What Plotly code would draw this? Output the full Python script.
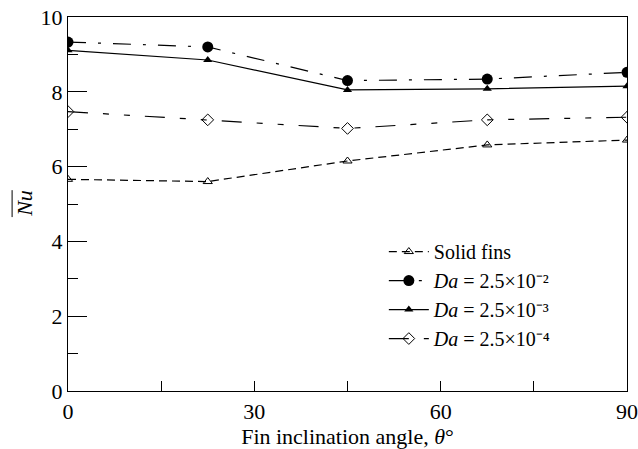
import plotly.graph_objects as go

angles = [0, 22.5, 45, 67.5, 90]
solid_fins = [5.66, 5.60, 6.15, 6.58, 6.71]
da_2 = [9.33, 9.20, 8.30, 8.34, 8.52]
da_3 = [9.11, 8.85, 8.05, 8.08, 8.15]
da_4 = [7.47, 7.25, 7.02, 7.25, 7.32]

names = ["Solid fins",
         "<i>Da</i> = 2.5×10⁻²",
         "<i>Da</i> = 2.5×10⁻³",
         "<i>Da</i> = 2.5×10⁻⁴"]

x_ticks = [0, 30, 60, 90]
y_ticks = [0, 2, 4, 6, 8, 10]

FONT = "Liberation Serif, Times New Roman, serif"

fig = go.Figure()
fig.add_trace(go.Scatter(x=angles, y=solid_fins, name=names[0], mode="lines+markers",
                         line=dict(color="black", width=1.2, dash="8px,5px"),
                         marker=dict(symbol="triangle-up-open", size=8, color="black",
                                     line=dict(width=1))))
fig.add_trace(go.Scatter(x=angles, y=da_2, name=names[1], mode="lines+markers",
                         line=dict(color="black", width=1.2, dash="18px,12px,3px,12px"),
                         marker=dict(symbol="circle", size=11, color="black")))
fig.add_trace(go.Scatter(x=angles, y=da_3, name=names[2], mode="lines+markers",
                         line=dict(color="black", width=1.2),
                         marker=dict(symbol="triangle-up", size=8, color="black")))
fig.add_trace(go.Scatter(x=angles, y=da_4, name=names[3], mode="lines+markers",
                         line=dict(color="black", width=1.2, dash="20px,15px,6px,15px,6px,15px"),
                         marker=dict(symbol="diamond-open", size=9, color="black",
                                     line=dict(width=1))))

fig.update_layout(
    width=638, height=449,
    margin=dict(l=68, r=11, t=17, b=58),
    paper_bgcolor="white", plot_bgcolor="white",
    font=dict(family=FONT, size=21, color="black"),
    legend=dict(x=0.565, y=0.425, xanchor="left", yanchor="top",
                bgcolor="rgba(0,0,0,0)", font=dict(size=20, family=FONT),
                tracegroupgap=0, itemwidth=40),
    annotations=[dict(text="<i>Nu</i>", xref="paper", yref="paper",
                      x=-0.077, y=0.503, xanchor="center", yanchor="middle",
                      textangle=-90, showarrow=False, font=dict(size=22, family=FONT))],
    shapes=[dict(type="line", xref="paper", yref="paper",
                 x0=-0.1, x1=-0.1, y0=0.465, y1=0.537,
                 line=dict(color="black", width=1))],
)
fig.update_xaxes(range=[0, 90], tickvals=x_ticks, ticktext=[str(v) for v in x_ticks],
                 ticks="inside", ticklen=10, tickwidth=1, tickcolor="black",
                 minor=dict(dtick=15, tick0=0, ticks="inside", ticklen=10, tickwidth=1, tickcolor="black"),
                 showline=True, linecolor="black", linewidth=1.2, mirror=True,
                 showgrid=False, zeroline=False, automargin=False,
                 tickfont=dict(size=22),
                 title=dict(text="Fin inclination angle, <i>θ</i>°", font=dict(size=22), standoff=10))
fig.update_yaxes(range=[0, 10], tickvals=y_ticks, ticktext=[str(v) for v in y_ticks],
                 ticks="inside", ticklen=19, tickwidth=1, tickcolor="black",
                 minor=dict(dtick=1, tick0=0, ticks="inside", ticklen=10, tickwidth=1, tickcolor="black"),
                 showline=True, linecolor="black", linewidth=1.2, mirror=True,
                 showgrid=False, zeroline=False, automargin=False,
                 tickfont=dict(size=22))

fig.write_html("out.html", config={"displayModeBar": False},
               post_script="document.body.style.margin='0';document.body.style.padding='0';")
